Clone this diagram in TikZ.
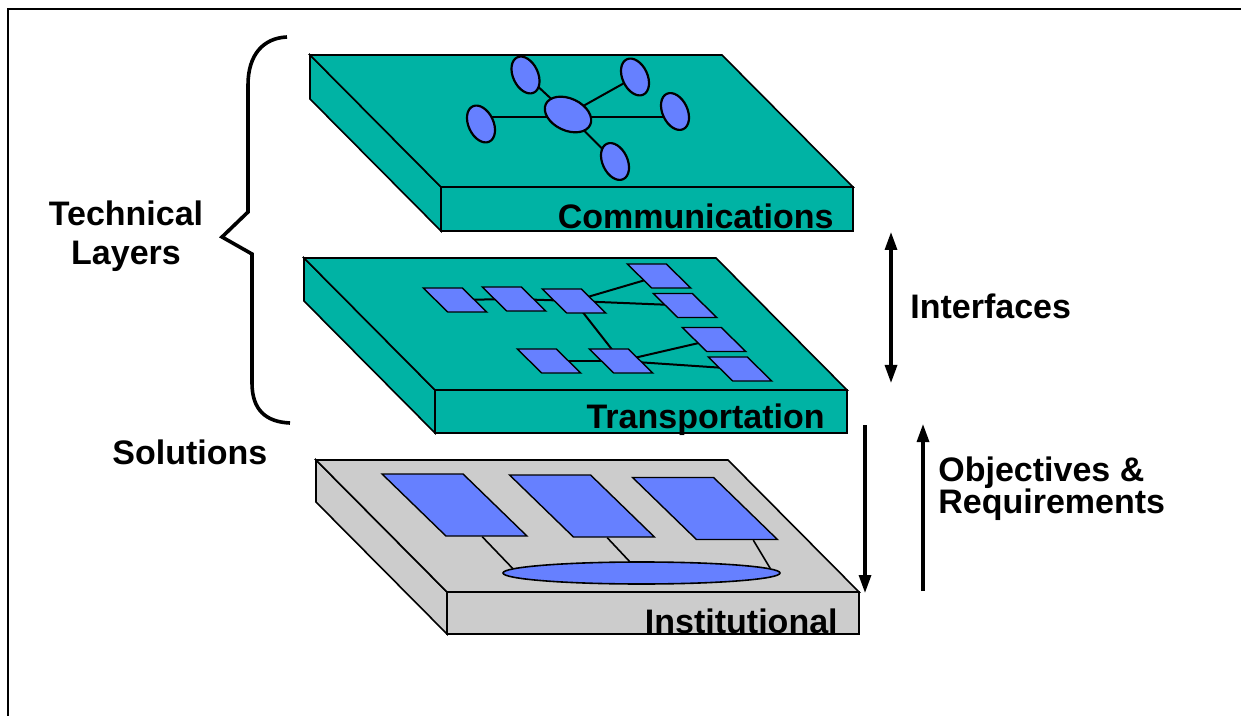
\documentclass[tikz,border=0pt]{standalone}
\usepackage{fontspec}
\setmainfont{Liberation Sans}
\usetikzlibrary{shapes.geometric,arrows.meta,calc}

\pgfdeclarelayer{slabs}
\pgfdeclarelayer{links}
\pgfsetlayers{slabs,links,main}

\definecolor{layerteal}{RGB}{0,179,164}
\definecolor{layergray}{RGB}{204,204,204}
\definecolor{itemblue}{RGB}{102,128,255}

\tikzset{
  frameline/.style={line width=1pt},
  slabline/.style={draw=black, line width=0.8pt},
  bubble/.style={ellipse, draw=black, fill=itemblue, line width=1.1pt, inner sep=0pt,
    minimum width=12.5pt, minimum height=19.5pt, rotate=25},
  hubbubble/.style={bubble, minimum width=16pt, minimum height=24.5pt, rotate=40},
  tile/.style={rectangle, draw=black, fill=itemblue, line width=0.7pt, inner sep=0pt,
    minimum width=19.5pt, minimum height=12pt, xslant=-1.02},
  slot/.style={rectangle, draw=black, fill=itemblue, line width=0.7pt, inner sep=0pt,
    minimum width=40.5pt, minimum height=31pt, xslant=-1.03},
  pool/.style={ellipse, draw=black, fill=itemblue, line width=0.8pt, inner sep=0pt,
    minimum width=138.5pt, minimum height=11pt},
  link/.style={draw=black, line width=1pt},
  thinlink/.style={draw=black, line width=0.8pt},
  bigtip/.tip={Triangle[length=9pt,width=6pt]},
  bigarrow/.style={line width=1.6pt},
  brace/.style={line width=1.8pt, line join=miter},
  lbl/.style={font=\bfseries\fontsize{17}{20}\selectfont, inner sep=0pt},
}

% one layer slab: corner x, corner y, thickness, fill colour
\newcommand\drawslab[4]{%
  \begin{scope}[shift={(#1,#2)}]
    \filldraw[slabline, fill=#4] (0,0) -- (0,#3) -- (131,132+#3) -- (131,132) -- cycle;
    \filldraw[slabline, fill=#4] (131,132) rectangle (543,132+#3);
    \filldraw[slabline, fill=#4] (0,0) -- (412,0) -- (543,132) -- (131,132) -- cycle;
  \end{scope}}

\begin{document}
\begin{tikzpicture}[x=0.5pt,y=-0.5pt]
  \useasboundingbox (0,0) rectangle (1241,716);

  % outer frame (only the left and top edges fall inside the page)
  \draw[frameline] (7.5,716) -- (7.5,9.5) -- (1241,9.5);

  % the three slabs
  \begin{pgfonlayer}{slabs}
    \drawslab{310}{55}{44}{layerteal}
    \drawslab{304}{258}{43}{layerteal}
    \drawslab{316}{460}{42}{layergray}
  \end{pgfonlayer}

  % communications network
  \node[hubbubble] (hub) at (568,114.5) {};
  \node[bubble] (cTL) at (525.5,75) {};
  \node[bubble] (cTR) at (635,77) {};
  \node[bubble] (cL)  at (481,124) {};
  \node[bubble] (cR)  at (675,111.5) {};
  \node[bubble] (cB)  at (615,161.5) {};
  \coordinate (bus) at ([yshift=-1.5pt]hub.center);
  \begin{pgfonlayer}{links}
    \draw[link] (bus -| cL.center) -- (bus -| cR.center);
    \draw[link] (hub.center) -- (cTL.center);
    \draw[link] (hub.center) -- (cTR.center);
    \draw[link] (hub.center) -- (cB.center);
  \end{pgfonlayer}

  % transportation network
  \node[tile] (t1) at (455,300) {};
  \node[tile] (t2) at (514,299) {};
  \node[tile] (t3) at (574,301) {};
  \node[tile] (t4) at (659,276) {};
  \node[tile] (t5) at (685,305.5) {};
  \node[tile] (t6) at (549,361) {};
  \node[tile] (t7) at (621,361) {};
  \node[tile] (t8) at (714,339.5) {};
  \node[tile] (t9) at (740,369) {};
  \begin{pgfonlayer}{links}
    \draw[link] (t1.center) -- (t2.center) -- (t3.center);
    \draw[link] (t3.center) -- (t4.center);
    \draw[link] (t3.center) -- (t5.center);
    \draw[link] (t3.center) -- (t7.center);
    \draw[link] (t6.center) -- (t7.center);
    \draw[link] (t7.center) -- (t8.center);
    \draw[link] (t7.center) -- (t9.center);
  \end{pgfonlayer}

  % institutional blocks and shared pool
  \node[slot] (b1) at (454.5,505) {};
  \node[slot] (b2) at (582,506) {};
  \node[slot] (b3) at (705,508.5) {};
  \node[pool] (pool) at (641.5,573) {};
  \begin{pgfonlayer}{links}
    \draw[thinlink] ($(b1.south west)!0.44!(b1.south east)$) -- (pool.178);
    \draw[thinlink] ($(b2.south west)!0.41!(b2.south east)$) -- (pool.136);
    \draw[thinlink] ($(b3.south west)!0.69!(b3.south east)$) -- (pool.2);
  \end{pgfonlayer}

  % slab names
  \node[lbl, anchor=base east] (nComm)  at (834,229) {Communications};
  \node[lbl, anchor=base east] (nTrans) at (825,428) {Transportation};
  \node[lbl, anchor=base east] (nInst)  at (838,633) {Institutional};

  % brace grouping the technical layers
  \draw[brace] (287,37) .. controls (263,38) and (248,55) .. (248,85)
    -- (248,212) -- (222,237) -- (252,254) -- (252,383)
    .. controls (252,410) and (266,422) .. (290,423);
  \node[lbl, anchor=base] (tech1) at (126,226) {Technical};
  \node[lbl, anchor=base] (tech2) at (126,265) {Layers};
  \node[lbl, anchor=base west] (sol) at (112,464) {Solutions};

  % interface and requirement arrows
  \coordinate (ifTop) at (891,232);
  \coordinate (ifBot) at (891,383);
  \coordinate (dnTop) at (865,425);
  \coordinate (dnBot) at (865,593);
  \coordinate (upBot) at (923,591);
  \coordinate (upTop) at (923,424);
  \draw[bigarrow, bigtip-bigtip] (ifTop) -- (ifBot);
  \draw[bigarrow, -bigtip] (dnTop) -- (dnBot);
  \draw[bigarrow, -bigtip] (upBot) -- (upTop);

  \node[lbl, anchor=base west] (iface) at (910,319) {Interfaces};
  \node[lbl, anchor=base west] (obj1) at (938,481) {Objectives \&};
  \node[lbl, anchor=base west] (obj2) at (938,513) {Requirements};
\end{tikzpicture}
\end{document}
